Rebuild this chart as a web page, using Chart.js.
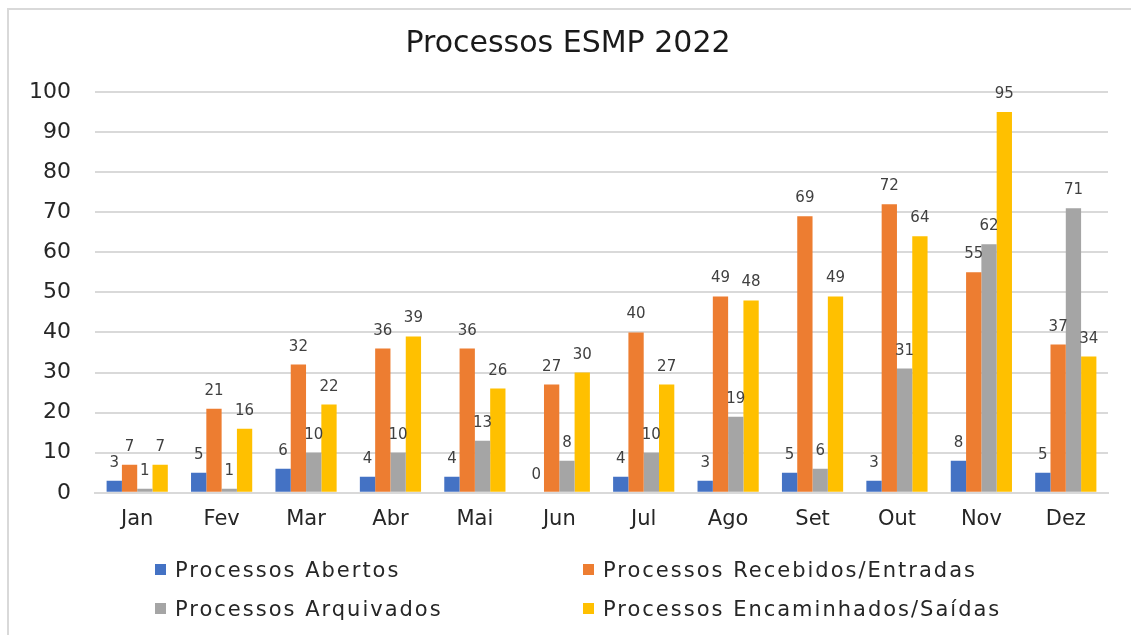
<!DOCTYPE html>
<html>
<head>
<meta charset="utf-8">
<script src="https://cdn.jsdelivr.net/npm/chart.js@4"></script>
<style>
  html, body { margin: 0; padding: 0; background: #fff; overflow: hidden; }
  #wrap { position: relative; width: 1131px; height: 635px; overflow: hidden; }
  #frame { position: absolute; left: 7px; top: 8px; right: 0; bottom: 0;
           border-top: 2px solid #d9d9d9; border-left: 2px solid #d9d9d9; }
  #chartCanvas { position: absolute; left: 0; top: 0; }
  #legend { position: absolute; left: 155px; top: 550px; display: grid;
            grid-template-columns: 428px auto; font-family: 'DejaVu Sans', sans-serif;
            font-size: 21px; letter-spacing: 2px; color: #262626; }
  #legend .item { height: 39px; display: flex; align-items: center; white-space: nowrap; }
  #legend .box { width: 11px; height: 11px; margin-right: 9px; flex: none; }
</style>
</head>
<body>
<div id="wrap">
  <div id="frame"></div>
  <canvas id="chartCanvas" width="1131" height="635"></canvas>
  <div id="legend"></div>
</div>
<script>
'use strict';

const MONTHS = ['Jan','Fev','Mar','Abr','Mai','Jun','Jul','Ago','Set','Out','Nov','Dez'];
const SERIES_NAMES = ['Processos Abertos', 'Processos Recebidos/Entradas',
                      'Processos Arquivados', 'Processos Encaminhados/Saídas'];
const ABERTOS      = [3, 5, 6, 4, 4, 0, 4, 3, 5, 3, 8, 5];
const RECEBIDOS    = [7, 21, 32, 36, 36, 27, 40, 49, 69, 72, 55, 37];
const ARQUIVADOS   = [1, 1, 10, 10, 13, 8, 10, 19, 6, 31, 62, 71];
const ENCAMINHADOS = [7, 16, 22, 39, 26, 30, 27, 48, 49, 64, 95, 34];
const COLORS = ['#4472C4', '#ED7D31', '#A5A5A5', '#FFC000'];

const FONT = "'DejaVu Sans', sans-serif";

// value labels above each bar
const barLabels = {
  id: 'barLabels',
  afterDatasetsDraw(chart) {
    const ctx = chart.ctx;
    ctx.save();
    ctx.font = '15px ' + FONT;
    ctx.fillStyle = '#404040';
    ctx.textAlign = 'center';
    ctx.textBaseline = 'alphabetic';
    chart.data.datasets.forEach((ds, i) => {
      const meta = chart.getDatasetMeta(i);
      meta.data.forEach((bar, j) => {
        ctx.fillText(String(ds.data[j]), bar.x, bar.y - 14);
      });
    });
    ctx.restore();
  }
};

const seriesData = [ABERTOS, RECEBIDOS, ARQUIVADOS, ENCAMINHADOS];

const chart = new Chart(document.getElementById('chartCanvas'), {
  type: 'bar',
  data: {
    labels: MONTHS,
    datasets: SERIES_NAMES.map((name, i) => ({
      label: name,
      data: seriesData[i],
      backgroundColor: COLORS[i],
      borderWidth: 0,
      categoryPercentage: 0.725,
      barPercentage: 1.0
    }))
  },
  options: {
    responsive: false,
    animation: false,
    layout: { padding: { left: 28, right: 23, top: 0, bottom: 89 } },
    scales: {
      x: {
        grid: { display: false, drawTicks: false },
        border: { display: true, color: '#d9d9d9', width: 2 },
        ticks: { color: '#262626', font: { family: FONT, size: 21 }, padding: 14 }
      },
      y: {
        min: 0, max: 100,
        afterFit(scale) { scale.width = 67; },
        grid: { color: '#d9d9d9', lineWidth: 2, drawTicks: false },
        border: { display: false },
        ticks: { stepSize: 10, color: '#262626', font: { family: FONT, size: 22 }, padding: 24 }
      }
    },
    plugins: {
      legend: { display: false },
      tooltip: { enabled: false },
      title: {
        display: true,
        text: 'Processos ESMP 2022',
        color: '#1a1a1a',
        font: { family: FONT, size: 30, weight: 'normal' },
        padding: { top: 26, bottom: 30 }
      }
    }
  },
  plugins: [barLabels]
});

// legend in two columns, built from the chart datasets
const legendEl = document.getElementById('legend');
chart.data.datasets.forEach(ds => {
  const item = document.createElement('div');
  item.className = 'item';
  const box = document.createElement('span');
  box.className = 'box';
  box.style.background = ds.backgroundColor;
  const txt = document.createElement('span');
  txt.textContent = ds.label;
  item.appendChild(box);
  item.appendChild(txt);
  legendEl.appendChild(item);
});
</script>
</body>
</html>
